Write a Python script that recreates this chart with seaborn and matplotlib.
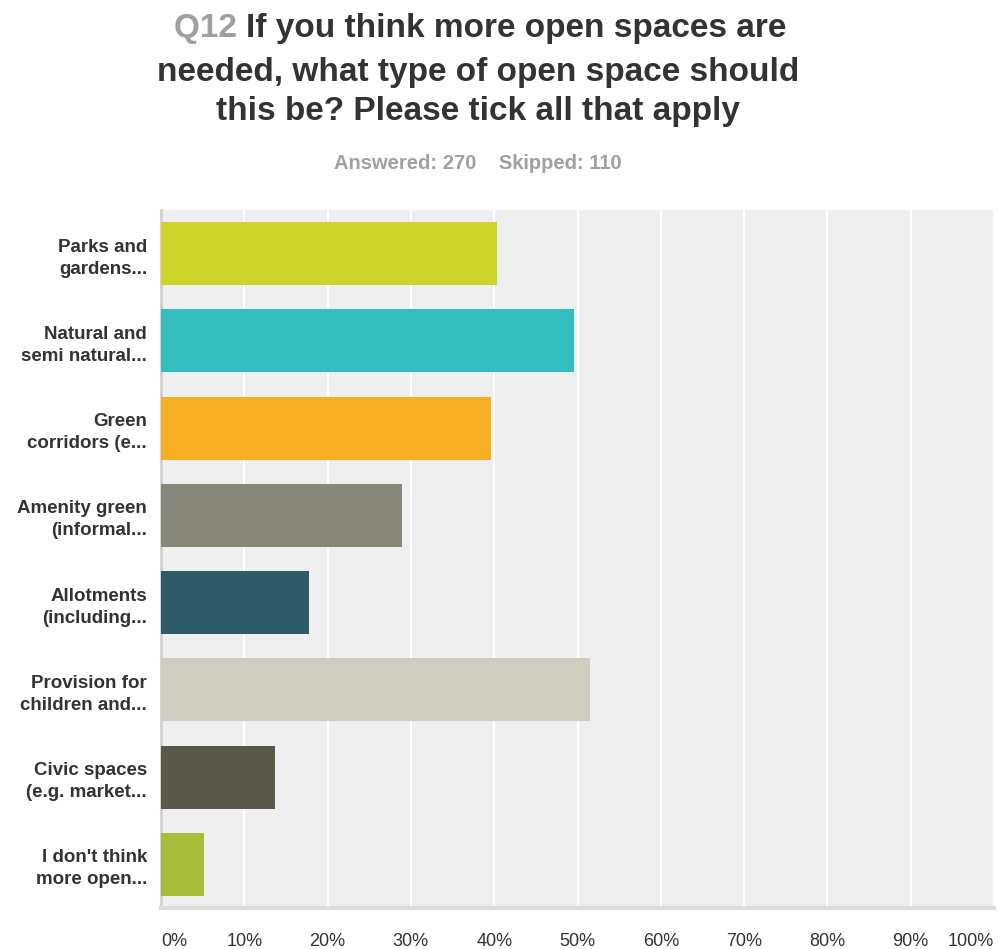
import matplotlib
matplotlib.use('Agg')
import matplotlib.pyplot as plt
from matplotlib import font_manager
import seaborn as sns
import pandas as pd

categories = ['Parks and\ngardens...', 'Natural and\nsemi natural...', 'Green\ncorridors (e...',
              'Amenity green\n(informal...', 'Allotments\n(including...', 'Provision for\nchildren and...',
              'Civic spaces\n(e.g. market...', "I don't think\nmore open..."]
percent = [40.37, 49.63, 39.63, 28.89, 17.78, 51.48, 13.70, 5.19]
colors = ['#cdd52a', '#33bdbf', '#f6ae22', '#87877a', '#2d5c66', '#cecdbf', '#5a5848', '#a8bd3a']
xticks = [0, 10, 20, 30, 40, 50, 60, 70, 80, 90, 100]
xtick_labels = [f'{t}%' for t in xticks]

names = {f.name for f in font_manager.fontManager.ttflist}
narrow = 'Liberation Sans Narrow' if 'Liberation Sans Narrow' in names else 'Liberation Sans'

sns.set_style('white')
plt.rcParams['font.family'] = ['Liberation Sans', 'DejaVu Sans']

df = pd.DataFrame({'cat': categories, 'pct': percent})

fig = plt.figure(figsize=(9.99, 9.49), dpi=100)
W, H = 999, 949
ax = fig.add_axes([161 / W, (949 - 908) / H, (994 - 161) / W, (908 - 210) / H])
ax.set_facecolor('#efefef')

sns.barplot(data=df, x='pct', y='cat', hue='cat', palette=colors, legend=False,
            width=0.72, saturation=1, linewidth=0, ax=ax, zorder=3)

ax.set_xlim(0, 100)
ax.set_ylim(7.5, -0.5)
ax.set_xticks(xticks)
ax.set_xticklabels(xtick_labels, fontsize=13, color='#333333', family=narrow)
ax.tick_params(axis='x', length=0, pad=18)
ax.tick_params(axis='y', length=0, pad=10)
for lab in ax.get_yticklabels():
    lab.set_fontweight('bold')
    lab.set_fontsize(13.5)
    lab.set_color('#333333')
    lab.set_linespacing(1.38)
xl = ax.get_xticklabels()
xl[0].set_horizontalalignment('left')
xl[-1].set_horizontalalignment('right')
ax.set_xlabel('')
ax.set_ylabel('')
ax.grid(axis='x', color='white', linewidth=1.5, zorder=1)
ax.set_axisbelow(True)
for s in ['top', 'right']:
    ax.spines[s].set_visible(False)
ax.spines['left'].set_color('#d0d0d0')
ax.spines['left'].set_linewidth(2)
ax.spines['bottom'].set_color('#dcdcdc')
ax.spines['bottom'].set_linewidth(3)

# title, with grey question number
title_lines = ['If you think more open spaces are', 'needed, what type of open space should',
               'this be? Please tick all that apply']
fig.canvas.draw()
r = fig.canvas.get_renderer()
q = fig.text(0, 0, 'Q12 ', fontsize=24, fontweight='bold', color='#a0a0a0', family=narrow)
t1 = fig.text(0, 0, title_lines[0], fontsize=24, fontweight='bold', color='#333333', family=narrow)
wq = q.get_window_extent(r).width
w1 = t1.get_window_extent(r).width
x0 = 480 - (wq + w1) / 2
y1 = 1 - 37 / H
q.set_position((x0 / W, y1))
t1.set_position(((x0 + wq) / W, y1))
fig.text(478 / W, 1 - 81 / H, title_lines[1], fontsize=24, fontweight='bold', color='#333333',
         family=narrow, ha='center')
fig.text(478 / W, 1 - 120 / H, title_lines[2], fontsize=24, fontweight='bold', color='#333333',
         family=narrow, ha='center')
fig.text(478 / W, 1 - 169 / H, 'Answered: 270    Skipped: 110', fontsize=14.5, fontweight='bold',
         color='#a0a0a0', family=narrow, ha='center')

fig.savefig('out.png', dpi=100)
